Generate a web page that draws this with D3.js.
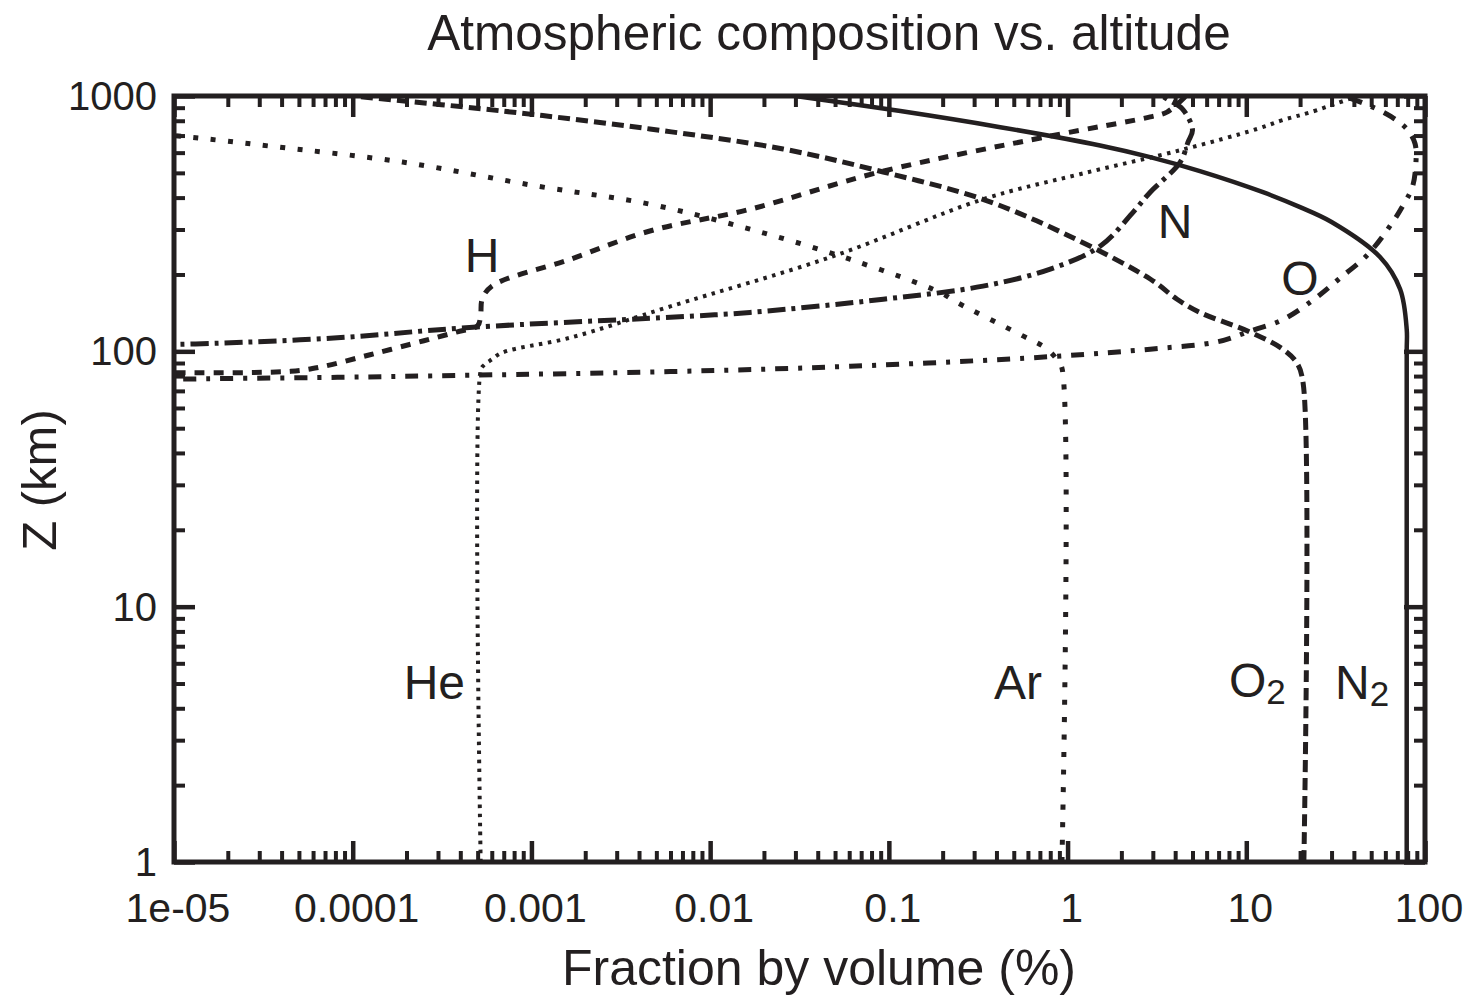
<!DOCTYPE html>
<html>
<head>
<meta charset="utf-8">
<script src="https://cdn.jsdelivr.net/npm/d3@7/dist/d3.min.js"></script>
<style>
  body { margin: 0; background: #fff; }
  svg text { font-family: "Liberation Sans", Arial, Helvetica, sans-serif; fill: #231f20; }
</style>
</head>
<body>
<svg id="chart" width="1480" height="999"></svg>
<script>
// Altitude (km) and fraction by volume (%), one pair of arrays per species
const n2Alt = [1, 100, 122, 175, 234, 321, 367, 420, 508, 576, 640, 755, 873, 1000];
const n2Val = [79, 79, 79, 72.6, 56, 30, 20, 12.4, 5.5, 2.9, 1.52, 0.42, 0.116, 0.03];

const o2Alt = [1, 75, 90, 102, 119, 142, 160, 192, 285, 394, 504, 620, 743, 873, 1000];
const o2Val = [21, 20.8, 19.2, 16, 10.5, 5.5, 4.1, 2.9, 1.0, 0.336, 0.093, 0.0256, 0.0046, 0.00069, 0.0001];

const arAlt = [1, 86, 92, 102, 116.6, 155.6, 170, 229, 301, 377, 444, 551, 637, 691, 730];
const arVal = [0.93, 0.93, 0.88, 0.77, 0.54, 0.24, 0.194, 0.061, 0.0167, 0.0046, 0.00107, 0.00019, 3.4e-5, 1.2e-5, 5e-6];

const heAlt = [1, 84, 88, 93, 99, 113, 150, 236, 394, 494, 614, 743, 805, 865, 1000];
const heVal = [0.00052, 0.00052, 0.00054, 0.0006, 0.00069, 0.00164, 0.006, 0.049, 0.336, 1.17, 4.3, 11.5, 16, 23, 42];

const hAlt = [82.5, 83.5, 86.6, 97, 110, 119, 126, 140, 160, 180, 229, 296, 360, 504, 697, 828, 865, 1000];
const hVal = [8e-6, 4.5e-5, 6.5e-5, 1.25e-4, 2.5e-4, 3.8e-4, 5e-4, 5.2e-4, 5.3e-4, 6e-4, 0.00164, 0.0046, 0.0167, 0.089, 0.8, 2.9, 3.6, 4.6];

const nAlt = [106, 107.5, 113, 124, 136, 142, 160, 180, 210, 258, 351, 420, 551, 660, 736, 889, 973, 1000];
const nVal = [8e-6, 1.7e-5, 8.2e-5, 4.5e-4, 0.006, 0.0167, 0.093, 0.336, 0.8, 1.52, 2.33, 2.9, 4.27, 4.72, 5.0, 4.4, 3.6, 3.4];

const oAlt = [77, 77.7, 79.1, 80.6, 83.3, 87.4, 95.3, 102, 109, 120, 133, 160, 192, 240, 321, 377, 440, 550, 650, 736, 828, 922, 1000];
const oVal = [7e-6, 1e-5, 8.2e-5, 4.5e-4, 0.006, 0.061, 0.8, 2.9, 6.9, 10.5, 16, 24, 33, 48, 66, 76, 85, 89, 88, 80, 65, 48, 35];

// Tick values and labels
const xMajor = [1e-5, 1e-4, 1e-3, 1e-2, 1e-1, 1, 10, 100];
const xTickLabels = ["1e-05", "0.0001", "0.001", "0.01", "0.1", "1", "10", "100"];
const yMajor = [1, 10, 100, 1000];
const yTickLabels = ["1", "10", "100", "1000"];

// Species names for the in-plot labels
const speciesNames = ["N2", "O2", "Ar", "He", "H", "N", "O"];

const INK = "#231f20";

const svg = d3.select("#chart");
const x = d3.scaleLog().domain([1e-5, 100]).range([174, 1425]);
const y = d3.scaleLog().domain([1, 1000]).range([862, 96]);

// minor ticks: 2..9 inside each decade
function minors(majors) {
    const out = [];
    for (let i = 0; i < majors.length - 1; i++) {
        for (let k = 2; k <= 9; k++) out.push(majors[i] * k);
    }
    return out;
}
const xMinor = minors(xMajor);
const yMinor = minors(yMajor);

svg.append("defs").append("clipPath").attr("id", "plot-clip")
    .append("rect")
    .attr("x", x.range()[0]).attr("y", y.range()[1])
    .attr("width", x.range()[1] - x.range()[0])
    .attr("height", y.range()[0] - y.range()[1]);

// Series styles
const styles = {
    N2: { dash: null, width: 4.5 },
    O2: { dash: "12,6", width: 5 },
    Ar: { dash: "5,12.5", width: 5 },
    He: { dash: "3.5,5.5", width: 4 },
    H:  { dash: "10,9", width: 5 },
    N:  { dash: "18,6,4,6", width: 5 },
    O:  { dash: "13,10,4,10", width: 5 }
};
const seriesData = {
    N2: d3.zip(n2Alt, n2Val),
    O2: d3.zip(o2Alt, o2Val),
    Ar: d3.zip(arAlt, arVal),
    He: d3.zip(heAlt, heVal),
    H:  d3.zip(hAlt, hVal),
    N:  d3.zip(nAlt, nVal),
    O:  d3.zip(oAlt, oVal)
};

const line = d3.line()
    .x(d => x(d[1]))
    .y(d => y(d[0]))
    .curve(d3.curveCatmullRom.alpha(0.5));

const lines = svg.append("g").attr("clip-path", "url(#plot-clip)");
speciesNames.forEach(name => {
    lines.append("path")
        .datum(seriesData[name])
        .attr("fill", "none")
        .attr("stroke", INK)
        .attr("stroke-width", styles[name].width)
        .attr("stroke-dasharray", styles[name].dash)
        .attr("d", line);
});

// Axes: ticks pointing inwards on all four sides
function addAxis(axis, transform, size, values, sw) {
    const g = svg.append("g")
        .attr("transform", transform)
        .call(axis.tickValues(values).tickSize(size).tickFormat(""));
    g.select(".domain").remove();
    g.selectAll(".tick line").attr("stroke", INK).attr("stroke-width", sw);
    return g;
}
const bottomY = y.range()[0], topY = y.range()[1];
const leftX = x.range()[0], rightX = x.range()[1];

addAxis(d3.axisBottom(x), `translate(0,${bottomY})`, -21, xMajor, 4.5);
addAxis(d3.axisBottom(x), `translate(0,${bottomY})`, -11, xMinor, 4);
addAxis(d3.axisTop(x), `translate(0,${topY})`, -21, xMajor, 4.5);
addAxis(d3.axisTop(x), `translate(0,${topY})`, -11, xMinor, 4);
addAxis(d3.axisLeft(y), `translate(${leftX},0)`, -21, yMajor, 4.5);
addAxis(d3.axisLeft(y), `translate(${leftX},0)`, -11, yMinor, 4);
addAxis(d3.axisRight(y), `translate(${rightX},0)`, -21, yMajor, 4.5);
addAxis(d3.axisRight(y), `translate(${rightX},0)`, -11, yMinor, 4);

// Frame
svg.append("rect")
    .attr("x", leftX).attr("y", topY)
    .attr("width", rightX - leftX).attr("height", bottomY - topY)
    .attr("fill", "none").attr("stroke", INK).attr("stroke-width", 5);

// Tick labels
svg.append("g").selectAll("text")
    .data(xMajor)
    .join("text")
    .attr("x", d => x(d) + 4)
    .attr("y", 922)
    .attr("text-anchor", "middle")
    .attr("font-size", 41)
    .text((d, i) => xTickLabels[i]);

svg.append("g").selectAll("text")
    .data(yMajor)
    .join("text")
    .attr("x", 157)
    .attr("y", d => y(d))
    .attr("dy", "0.35em")
    .attr("text-anchor", "end")
    .attr("font-size", 40)
    .text((d, i) => yTickLabels[i]);

// Title and axis titles
svg.append("text")
    .attr("x", 829).attr("y", 50)
    .attr("text-anchor", "middle")
    .attr("font-size", 49.5)
    .text("Atmospheric composition vs. altitude");

svg.append("text")
    .attr("x", 819).attr("y", 985)
    .attr("text-anchor", "middle")
    .attr("font-size", 50)
    .text("Fraction by volume (%)");

svg.append("text")
    .attr("transform", "translate(56,480) rotate(-90)")
    .attr("text-anchor", "middle")
    .attr("font-size", 49)
    .text("Z (km)");

// Species labels
const labelSpots = [
    { name: "H",  x: 482,  y: 272, anchor: "middle" },
    { name: "N",  x: 1175, y: 238, anchor: "middle" },
    { name: "O",  x: 1300, y: 295, anchor: "middle" },
    { name: "He", x: 465,  y: 699, anchor: "end" },
    { name: "Ar", x: 1042, y: 699, anchor: "end" },
    { name: "O2", x: 1229, y: 697, anchor: "start" },
    { name: "N2", x: 1335, y: 699, anchor: "start" }
];
labelSpots.forEach(l => {
    const t = svg.append("text")
        .attr("x", l.x).attr("y", l.y)
        .attr("text-anchor", l.anchor)
        .attr("font-size", 48);
    if (l.name.endsWith("2")) {
        t.append("tspan").text(l.name[0]);
        t.append("tspan").attr("font-size", 35).attr("dy", 7).text("2");
    } else {
        t.text(l.name);
    }
});
</script>
</body>
</html>
